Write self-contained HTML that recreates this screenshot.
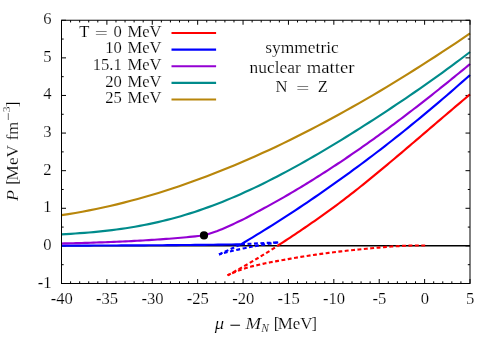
<!DOCTYPE html>
<html><head><meta charset="utf-8"><title>plot</title>
<style>html,body{margin:0;padding:0;background:#fff;}svg{display:block;}</style>
</head><body>
<svg width="500" height="350" viewBox="0 0 500 350">
<rect width="500" height="350" fill="#fff"/>
<path d="M61.50,283.5 v-4.5 M61.50,20.25 v4.5 M70.58,283.5 v-2.2 M70.58,20.25 v2.2 M79.66,283.5 v-2.2 M79.66,20.25 v2.2 M88.73,283.5 v-2.2 M88.73,20.25 v2.2 M97.81,283.5 v-2.2 M97.81,20.25 v2.2 M106.89,283.5 v-4.5 M106.89,20.25 v4.5 M115.97,283.5 v-2.2 M115.97,20.25 v2.2 M125.04,283.5 v-2.2 M125.04,20.25 v2.2 M134.12,283.5 v-2.2 M134.12,20.25 v2.2 M143.20,283.5 v-2.2 M143.20,20.25 v2.2 M152.28,283.5 v-4.5 M152.28,20.25 v4.5 M161.36,283.5 v-2.2 M161.36,20.25 v2.2 M170.43,283.5 v-2.2 M170.43,20.25 v2.2 M179.51,283.5 v-2.2 M179.51,20.25 v2.2 M188.59,283.5 v-2.2 M188.59,20.25 v2.2 M197.67,283.5 v-4.5 M197.67,20.25 v4.5 M206.74,283.5 v-2.2 M206.74,20.25 v2.2 M215.82,283.5 v-2.2 M215.82,20.25 v2.2 M224.90,283.5 v-2.2 M224.90,20.25 v2.2 M233.98,283.5 v-2.2 M233.98,20.25 v2.2 M243.06,283.5 v-4.5 M243.06,20.25 v4.5 M252.13,283.5 v-2.2 M252.13,20.25 v2.2 M261.21,283.5 v-2.2 M261.21,20.25 v2.2 M270.29,283.5 v-2.2 M270.29,20.25 v2.2 M279.37,283.5 v-2.2 M279.37,20.25 v2.2 M288.44,283.5 v-4.5 M288.44,20.25 v4.5 M297.52,283.5 v-2.2 M297.52,20.25 v2.2 M306.60,283.5 v-2.2 M306.60,20.25 v2.2 M315.68,283.5 v-2.2 M315.68,20.25 v2.2 M324.76,283.5 v-2.2 M324.76,20.25 v2.2 M333.83,283.5 v-4.5 M333.83,20.25 v4.5 M342.91,283.5 v-2.2 M342.91,20.25 v2.2 M351.99,283.5 v-2.2 M351.99,20.25 v2.2 M361.07,283.5 v-2.2 M361.07,20.25 v2.2 M370.14,283.5 v-2.2 M370.14,20.25 v2.2 M379.22,283.5 v-4.5 M379.22,20.25 v4.5 M388.30,283.5 v-2.2 M388.30,20.25 v2.2 M397.38,283.5 v-2.2 M397.38,20.25 v2.2 M406.46,283.5 v-2.2 M406.46,20.25 v2.2 M415.53,283.5 v-2.2 M415.53,20.25 v2.2 M424.61,283.5 v-4.5 M424.61,20.25 v4.5 M433.69,283.5 v-2.2 M433.69,20.25 v2.2 M442.77,283.5 v-2.2 M442.77,20.25 v2.2 M451.84,283.5 v-2.2 M451.84,20.25 v2.2 M460.92,283.5 v-2.2 M460.92,20.25 v2.2 M470.00,283.5 v-4.5 M470.00,20.25 v4.5 M61.5,283.50 h4.5 M470.0,283.50 h-4.5 M61.5,264.70 h2.2 M470.0,264.70 h-2.2 M61.5,245.89 h4.5 M470.0,245.89 h-4.5 M61.5,227.09 h2.2 M470.0,227.09 h-2.2 M61.5,208.29 h4.5 M470.0,208.29 h-4.5 M61.5,189.48 h2.2 M470.0,189.48 h-2.2 M61.5,170.68 h4.5 M470.0,170.68 h-4.5 M61.5,151.88 h2.2 M470.0,151.88 h-2.2 M61.5,133.07 h4.5 M470.0,133.07 h-4.5 M61.5,114.27 h2.2 M470.0,114.27 h-2.2 M61.5,95.46 h4.5 M470.0,95.46 h-4.5 M61.5,76.66 h2.2 M470.0,76.66 h-2.2 M61.5,57.86 h4.5 M470.0,57.86 h-4.5 M61.5,39.05 h2.2 M470.0,39.05 h-2.2 M61.5,20.25 h4.5 M470.0,20.25 h-4.5" stroke="#000" stroke-width="1.0" fill="none"/>
<g>
<path d="M61.5,245.7 H470.0" stroke="#000" stroke-width="1.6" fill="none"/>
<path d="M278.00,245.50 L280.43,243.94 L282.86,242.36 L285.29,240.77 L287.72,239.17 L290.15,237.56 L292.58,235.95 L295.01,234.34 L297.44,232.72 L299.87,231.08 L302.30,229.43 L304.73,227.76 L307.16,226.09 L309.59,224.40 L312.03,222.71 L314.46,221.02 L316.89,219.33 L319.32,217.63 L321.75,215.92 L324.18,214.20 L326.61,212.46 L329.04,210.70 L331.47,208.91 L333.90,207.12 L336.33,205.32 L338.76,203.50 L341.19,201.67 L343.62,199.83 L346.05,197.97 L348.48,196.10 L350.91,194.22 L353.34,192.32 L355.77,190.40 L358.20,188.47 L360.63,186.53 L363.06,184.57 L365.49,182.61 L367.92,180.64 L370.35,178.66 L372.78,176.67 L375.22,174.67 L377.65,172.67 L380.08,170.66 L382.51,168.64 L384.94,166.62 L387.37,164.59 L389.80,162.55 L392.23,160.51 L394.66,158.47 L397.09,156.42 L399.52,154.36 L401.95,152.31 L404.38,150.24 L406.81,148.18 L409.24,146.11 L411.67,144.04 L414.10,141.97 L416.53,139.89 L418.96,137.82 L421.39,135.74 L423.82,133.66 L426.25,131.58 L428.68,129.50 L431.11,127.42 L433.54,125.34 L435.97,123.26 L438.41,121.18 L440.84,119.10 L443.27,117.03 L445.70,114.96 L448.13,112.88 L450.56,110.81 L452.99,108.75 L455.42,106.68 L457.85,104.62 L460.28,102.57 L462.71,100.52 L465.14,98.47 L467.57,96.42 L470.00,94.39" stroke="#ff0000" stroke-width="2.15" fill="none" stroke-linejoin="round"/>
<path d="M61.50,245.64 L66.10,245.62 L70.71,245.61 L75.31,245.60 L79.91,245.59 L84.51,245.57 L89.12,245.56 L93.72,245.54 L98.32,245.53 L102.92,245.51 L107.53,245.49 L112.13,245.48 L116.73,245.46 L121.33,245.44 L125.94,245.41 L130.54,245.39 L135.14,245.37 L139.74,245.34 L144.35,245.32 L148.95,245.29 L153.55,245.26 L158.15,245.23 L162.76,245.20 L167.36,245.16 L171.96,245.13 L176.56,245.09 L181.17,245.05 L185.77,245.01 L190.37,244.96 L194.97,244.92 L199.58,244.87 L204.18,244.82 L208.78,244.76 L213.38,244.71 L217.99,244.65 L222.59,244.58 L227.19,244.52 L231.79,244.45 L236.40,244.38 L241.00,244.30 L241.00,244.30 L244.88,241.99 L248.76,239.66 L252.64,237.32 L256.53,234.95 L260.41,232.57 L264.29,230.17 L268.17,227.75 L272.05,225.31 L275.93,222.86 L279.81,220.38 L283.69,217.89 L287.58,215.37 L291.46,212.84 L295.34,210.29 L299.22,207.73 L303.10,205.14 L306.98,202.53 L310.86,199.90 L314.75,197.26 L318.63,194.59 L322.51,191.91 L326.39,189.21 L330.27,186.49 L334.15,183.74 L338.03,180.98 L341.92,178.20 L345.80,175.40 L349.68,172.58 L353.56,169.74 L357.44,166.88 L361.32,164.00 L365.20,161.10 L369.08,158.18 L372.97,155.24 L376.85,152.27 L380.73,149.29 L384.61,146.29 L388.49,143.27 L392.37,140.23 L396.25,137.16 L400.14,134.08 L404.02,130.97 L407.90,127.85 L411.78,124.70 L415.66,121.54 L419.54,118.35 L423.42,115.14 L427.31,111.91 L431.19,108.66 L435.07,105.39 L438.95,102.09 L442.83,98.78 L446.71,95.44 L450.59,92.08 L454.47,88.70 L458.36,85.30 L462.24,81.88 L466.12,78.43 L470.00,74.97" stroke="#0000ff" stroke-width="2.15" fill="none" stroke-linejoin="round"/>
<path d="M61.50,243.50 L64.41,243.43 L67.32,243.36 L70.22,243.29 L73.13,243.22 L76.04,243.14 L78.95,243.06 L81.86,242.98 L84.77,242.89 L87.67,242.81 L90.58,242.72 L93.49,242.62 L96.40,242.53 L99.31,242.43 L102.21,242.32 L105.12,242.22 L108.03,242.11 L110.94,241.99 L113.85,241.87 L116.76,241.75 L119.66,241.63 L122.57,241.50 L125.48,241.36 L128.39,241.22 L131.30,241.08 L134.20,240.93 L137.11,240.78 L140.02,240.62 L142.93,240.45 L145.84,240.28 L148.74,240.11 L151.65,239.93 L154.56,239.74 L157.47,239.55 L160.38,239.35 L163.29,239.14 L166.19,238.93 L169.10,238.71 L172.01,238.48 L174.92,238.24 L177.83,238.00 L180.73,237.75 L183.64,237.49 L186.55,237.22 L189.46,236.94 L192.37,236.65 L195.28,236.35 L198.18,236.05 L201.09,235.73 L204.00,235.40 L204.00,235.40 L206.24,234.70 L208.47,233.98 L210.71,233.24 L212.94,232.48 L215.18,231.74 L217.41,230.97 L219.65,230.10 L221.88,229.14 L224.12,228.17 L226.35,227.18 L228.59,226.19 L230.82,225.18 L233.06,224.16 L235.29,223.13 L237.53,222.09 L239.76,221.03 L242.00,219.95 L244.24,218.84 L246.47,217.68 L248.71,216.50 L250.94,215.31 L253.18,214.09 L255.41,212.88 L257.65,211.67 L259.88,210.46 L262.12,209.26 L264.35,208.06 L266.59,206.84 L268.82,205.62 L271.06,204.39 L273.29,203.15 L275.53,201.90 L277.76,200.65 L280.00,199.38 L282.24,198.11 L284.47,196.82 L286.71,195.53 L288.94,194.23 L291.18,192.91 L293.41,191.59 L295.65,190.26 L297.88,188.92 L300.12,187.57 L302.35,186.21 L304.59,184.85 L306.82,183.48 L309.06,182.10 L311.29,180.72 L313.53,179.33 L315.76,177.93 L318.00,176.53 L320.24,175.12 L322.47,173.70 L324.71,172.27 L326.94,170.83 L329.18,169.38 L331.41,167.93 L333.65,166.47 L335.88,164.99 L338.12,163.51 L340.35,162.03 L342.59,160.53 L344.82,159.03 L347.06,157.51 L349.29,155.99 L351.53,154.47 L353.76,152.93 L356.00,151.39 L358.24,149.84 L360.47,148.28 L362.71,146.71 L364.94,145.14 L367.18,143.56 L369.41,141.97 L371.65,140.37 L373.88,138.77 L376.12,137.16 L378.35,135.54 L380.59,133.92 L382.82,132.29 L385.06,130.65 L387.29,129.01 L389.53,127.36 L391.76,125.70 L394.00,124.03 L396.24,122.36 L398.47,120.69 L400.71,119.00 L402.94,117.31 L405.18,115.62 L407.41,113.91 L409.65,112.21 L411.88,110.49 L414.12,108.77 L416.35,107.04 L418.59,105.31 L420.82,103.57 L423.06,101.83 L425.29,100.08 L427.53,98.33 L429.76,96.57 L432.00,94.80 L434.24,93.03 L436.47,91.25 L438.71,89.47 L440.94,87.69 L443.18,85.89 L445.41,84.10 L447.65,82.30 L449.88,80.49 L452.12,78.68 L454.35,76.86 L456.59,75.04 L458.82,73.21 L461.06,71.38 L463.29,69.55 L465.53,67.71 L467.76,65.87 L470.00,64.02" stroke="#9400d3" stroke-width="2.15" fill="none" stroke-linejoin="round"/>
<path d="M61.50,234.42 L66.09,234.13 L70.68,233.83 L75.27,233.52 L79.86,233.19 L84.45,232.84 L89.04,232.46 L93.63,232.06 L98.22,231.63 L102.81,231.16 L107.40,230.66 L111.99,230.12 L116.58,229.53 L121.17,228.91 L125.76,228.24 L130.35,227.52 L134.94,226.75 L139.53,225.93 L144.12,225.06 L148.71,224.14 L153.30,223.17 L157.89,222.14 L162.48,221.05 L167.07,219.91 L171.66,218.72 L176.25,217.47 L180.84,216.16 L185.43,214.79 L190.02,213.37 L194.61,211.90 L199.20,210.36 L203.79,208.78 L208.38,207.13 L212.97,205.44 L217.56,203.69 L222.15,201.88 L226.74,200.03 L231.33,198.12 L235.92,196.16 L240.51,194.16 L245.10,192.10 L249.69,190.00 L254.28,187.85 L258.87,185.66 L263.46,183.42 L268.04,181.14 L272.63,178.81 L277.22,176.45 L281.81,174.05 L286.40,171.61 L290.99,169.13 L295.58,166.62 L300.17,164.08 L304.76,161.50 L309.35,158.89 L313.94,156.24 L318.53,153.57 L323.12,150.87 L327.71,148.15 L332.30,145.39 L336.89,142.61 L341.48,139.81 L346.07,136.98 L350.66,134.13 L355.25,131.26 L359.84,128.36 L364.43,125.44 L369.02,122.51 L373.61,119.55 L378.20,116.57 L382.79,113.57 L387.38,110.55 L391.97,107.51 L396.56,104.45 L401.15,101.37 L405.74,98.27 L410.33,95.15 L414.92,92.00 L419.51,88.83 L424.10,85.63 L428.69,82.41 L433.28,79.16 L437.87,75.89 L442.46,72.58 L447.05,69.24 L451.64,65.87 L456.23,62.46 L460.82,59.01 L465.41,55.51 L470.00,51.98" stroke="#008b8b" stroke-width="2.15" fill="none" stroke-linejoin="round"/>
<path d="M61.50,215.16 L68.42,214.10 L75.35,212.94 L82.27,211.71 L89.19,210.39 L96.12,209.00 L103.04,207.52 L109.97,205.96 L116.89,204.33 L123.81,202.62 L130.74,200.83 L137.66,198.96 L144.58,197.02 L151.51,195.00 L158.43,192.91 L165.36,190.74 L172.28,188.50 L179.20,186.19 L186.13,183.81 L193.05,181.36 L199.97,178.83 L206.90,176.24 L213.82,173.58 L220.75,170.85 L227.67,168.05 L234.59,165.19 L241.52,162.26 L248.44,159.27 L255.36,156.21 L262.29,153.09 L269.21,149.90 L276.14,146.66 L283.06,143.35 L289.98,139.98 L296.91,136.55 L303.83,133.06 L310.75,129.52 L317.68,125.91 L324.60,122.25 L331.53,118.53 L338.45,114.76 L345.37,110.93 L352.30,107.05 L359.22,103.11 L366.14,99.12 L373.07,95.08 L379.99,90.99 L386.92,86.85 L393.84,82.65 L400.76,78.41 L407.69,74.12 L414.61,69.78 L421.53,65.40 L428.46,60.96 L435.38,56.49 L442.31,51.97 L449.23,47.40 L456.15,42.79 L463.08,38.14 L470.00,33.44" stroke="#b8860b" stroke-width="2.15" fill="none" stroke-linejoin="round"/>
<path d="M427.00,245.60 L424.48,245.52 L421.95,245.48 L419.43,245.46 L416.90,245.46 L414.38,245.49 L411.86,245.54 L409.33,245.61 L406.81,245.70 L404.28,245.80 L401.76,245.93 L399.24,246.06 L396.71,246.21 L394.19,246.38 L391.66,246.55 L389.14,246.74 L386.62,246.93 L384.09,247.14 L381.57,247.35 L379.04,247.57 L376.52,247.79 L373.99,248.03 L371.47,248.26 L368.95,248.50 L366.42,248.74 L363.90,248.99 L361.37,249.24 L358.85,249.49 L356.33,249.75 L353.80,250.01 L351.28,250.26 L348.75,250.52 L346.23,250.79 L343.71,251.07 L341.18,251.36 L338.66,251.65 L336.13,251.96 L333.61,252.26 L331.09,252.58 L328.56,252.89 L326.04,253.22 L323.51,253.54 L320.99,253.87 L318.47,254.21 L315.94,254.57 L313.42,254.94 L310.89,255.32 L308.37,255.72 L305.85,256.12 L303.32,256.52 L300.80,256.92 L298.27,257.33 L295.75,257.75 L293.23,258.18 L290.70,258.62 L288.18,259.07 L285.65,259.53 L283.13,259.99 L280.61,260.44 L278.08,260.90 L275.56,261.36 L273.03,261.82 L270.51,262.30 L267.98,262.79 L265.46,263.30 L262.94,263.84 L260.41,264.41 L257.89,264.99 L255.36,265.57 L252.84,266.17 L250.32,266.81 L247.79,267.51 L245.27,268.27 L242.74,269.11 L240.22,270.00 L237.70,270.95 L235.17,271.95 L232.65,273.01 L230.12,274.15 L227.60,275.35" stroke="#ff0000" stroke-width="2.15" fill="none" stroke-linejoin="round" stroke-dasharray="3.9 2.5" stroke-dashoffset="4.6"/>
<path d="M227.5,275.4 Q252,262.3 278.2,245.5" stroke="#ff0000" stroke-width="2.15" fill="none" stroke-linejoin="round" stroke-dasharray="3.9 2.5"/>
<path d="M241,244.3 Q260,243.2 278.2,242.4" stroke="#0000ff" stroke-width="2.15" fill="none" stroke-linejoin="round" stroke-dasharray="3.9 2.5"/>
<path d="M278.2,242.4 Q245,247 219,254.4" stroke="#0000ff" stroke-width="2.15" fill="none" stroke-linejoin="round" stroke-dasharray="3.9 2.5"/>
<path d="M219,254.4 L241,244.3" stroke="#0000ff" stroke-width="2.15" fill="none" stroke-linejoin="round" stroke-dasharray="3.9 2.5"/>
<circle cx="204" cy="235.4" r="4.1" fill="#000"/>
<path d="M171.5,32.95 H216.1" stroke="#ff0000" stroke-width="2.15" fill="none"/>
<path d="M171.5,49.58 H216.1" stroke="#0000ff" stroke-width="2.15" fill="none"/>
<path d="M171.5,66.21 H216.1" stroke="#9400d3" stroke-width="2.15" fill="none"/>
<path d="M171.5,82.84 H216.1" stroke="#008b8b" stroke-width="2.15" fill="none"/>
<path d="M171.5,99.47 H216.1" stroke="#b8860b" stroke-width="2.15" fill="none"/>
</g>
<rect x="61.5" y="20.25" width="408.5" height="263.25" stroke="#000" stroke-width="1.0" fill="none"/>
<g font-family="'Liberation Serif', serif" font-size="16.6" fill="#000" stroke="#fff" stroke-width="0.18">
<text x="61.70" y="304.3" text-anchor="middle">-40</text>
<text x="107.09" y="304.3" text-anchor="middle">-35</text>
<text x="152.48" y="304.3" text-anchor="middle">-30</text>
<text x="197.87" y="304.3" text-anchor="middle">-25</text>
<text x="243.26" y="304.3" text-anchor="middle">-20</text>
<text x="288.64" y="304.3" text-anchor="middle">-15</text>
<text x="334.03" y="304.3" text-anchor="middle">-10</text>
<text x="379.42" y="304.3" text-anchor="middle">-5</text>
<text x="424.81" y="304.3" text-anchor="middle">0</text>
<text x="470.20" y="304.3" text-anchor="middle">5</text>
<text x="51.6" y="287.50" text-anchor="end">-1</text>
<text x="51.6" y="249.89" text-anchor="end">0</text>
<text x="51.6" y="212.29" text-anchor="end">1</text>
<text x="51.6" y="174.68" text-anchor="end">2</text>
<text x="51.6" y="137.07" text-anchor="end">3</text>
<text x="51.6" y="99.46" text-anchor="end">4</text>
<text x="51.6" y="61.86" text-anchor="end">5</text>
<text x="51.6" y="24.25" text-anchor="end">6</text>
<text x="79.2" y="36.65">T</text>
<text transform="translate(94.7,38.65) scale(1.42,1)">=</text>
<text x="161.6" y="36.65" text-anchor="end" word-spacing="1.6">0 MeV</text>
<text x="161.6" y="53.35" text-anchor="end" word-spacing="1.6">10 MeV</text>
<text x="161.6" y="70.05" text-anchor="end" word-spacing="1.6">15.1 MeV</text>
<text x="161.6" y="86.75" text-anchor="end" word-spacing="1.6">20 MeV</text>
<text x="161.6" y="103.45" text-anchor="end" word-spacing="1.6">25 MeV</text>
<text x="265.2" y="52.8" textLength="73.6" lengthAdjust="spacingAndGlyphs">symmetric</text>
<text y="72.7"><tspan x="249.6" textLength="51.2" lengthAdjust="spacingAndGlyphs">nuclear</tspan> <tspan x="306.8" textLength="47.6" lengthAdjust="spacingAndGlyphs">matter</tspan></text>
<text x="275.5" y="92.4">N</text>
<text transform="translate(295.9,94.4) scale(1.42,1)">=</text>
<text x="317.8" y="92.4">Z</text>
<text y="329.3"><tspan x="214.8" font-style="italic" textLength="9.4" lengthAdjust="spacingAndGlyphs">μ</tspan> <tspan x="229.3" y="332.1" font-size="21">−</tspan> <tspan x="245.4" y="329.3" font-style="italic" textLength="15.6" lengthAdjust="spacingAndGlyphs">M</tspan><tspan x="261.2" y="331.6" font-style="italic" font-size="11.5">N</tspan> <tspan x="273.8" y="329.3">[</tspan><tspan x="277.7" textLength="34.8" lengthAdjust="spacingAndGlyphs">MeV</tspan><tspan x="311.5">]</tspan></text>
<text transform="translate(18,201.3) rotate(-90)" y="0"><tspan x="0.3" font-style="italic" textLength="11" lengthAdjust="spacingAndGlyphs">P</tspan> <tspan x="16.5">[</tspan><tspan x="20.9" textLength="35.2" lengthAdjust="spacingAndGlyphs">MeV</tspan> <tspan x="61">fm</tspan><tspan x="80.4" y="-5.5" font-size="15">−</tspan><tspan x="89.2" y="-7.8" font-size="10.8">3</tspan><tspan x="94.4" y="0">]</tspan></text>
</g>
</svg>
</body></html>
